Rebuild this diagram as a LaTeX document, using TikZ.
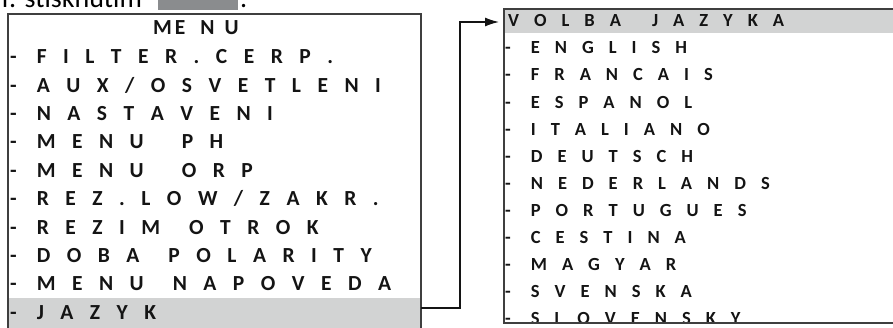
\documentclass[tikz,border=0pt]{standalone}
\usepackage{fontspec}
\setmainfont{Carlito}
\usetikzlibrary{arrows.meta}
\definecolor{framegray}{HTML}{3F3F3F}
\definecolor{band}{HTML}{D2D3D3}
\definecolor{keygray}{HTML}{8A8C8E}
\definecolor{ink}{HTML}{141414}

\newlength\lsp
\makeatletter
\newcommand\spaced[1]{\@tfor\ch:=#1\do{\ch\kern\lsp}}
\makeatother
\newcommand\wgap{\kern-4pt}
\newcommand\wwgap{\kern5pt}
\newcommand\hgap{\kern1pt}
\newcommand\rowtext[1]{-\kern20pt\expandafter\spaced\expandafter{#1}}

\begin{document}
\begin{tikzpicture}[x=1pt,y=-1pt,
	menuitem/.style={anchor=west,inner sep=0pt,text height=13.3pt,text depth=0pt,text=ink,
		font=\bfseries\fontsize{21.5}{21.5}\selectfont\setlength\lsp{16.5pt}},
	langitem/.style={anchor=west,inner sep=0pt,text height=11.7pt,text depth=0pt,text=ink,
		font=\bfseries\fontsize{18.5}{18.5}\selectfont\setlength\lsp{15pt}},
	frame/.style={draw=framegray,line width=1.5pt},
	arrowline/.style={draw=ink,line width=1.4pt,-{Latex[length=14pt,width=9pt]}}]

	\useasboundingbox (0,0) rectangle (893,327);

	% cut-off line of the page above
	\fill[keygray] (158,-5) rectangle (238,9.5);
	\node[anchor=base west,inner sep=0pt,font=\fontsize{28}{28}\selectfont] (cut) at (2,7) {r. stisknutím};
	\node[anchor=base west,inner sep=0pt,font=\fontsize{28}{28}\selectfont] (dot) at (240,7) {.};

	\coordinate (a) at (8,14);
	\coordinate (b) at (421,340);
	\coordinate (c) at (504,9);
	\coordinate (d) at (900,323);

	\fill[band] (8,298) rectangle (b);
	\fill[band] (c) rectangle (900,33);

	% main menu
	\node[menuitem] (title) at (153,28) {M\kern3pt E\kern15pt N\kern10pt U};
	\foreach \txt [count=\i] in {FILTER.CERP., AUX/OSVETLENI, NASTAVENI, MENU\wwgap PH, MENU\wwgap ORP,
		REZ.LOW/ZAKR., REZIM\wgap OTROK, DOBA\wgap POLARITY, MENU\wgap NAPOVEDA, JAZYK}
		\node[menuitem] (m\i) at (10,{57+(\i-1)*28.4}) {\rowtext{\txt}};

	% language menu
	\begin{scope}
		\clip (c) rectangle (d);
		\node[langitem] (head) at (508,21) {\spaced{VOLBA\hgap JAZYKA}};
		\foreach \txt [count=\i] in {ENGLISH, FRANCAIS, ESPANOL, ITALIANO, DEUTSCH, NEDERLANDS,
			PORTUGUES, CESTINA, MAGYAR, SVENSKA, SLOVENSKY}
			\node[langitem] (l\i) at (505,{48+(\i-1)*27.1}) {\rowtext{\txt}};
	\end{scope}

	\draw[frame] (a) rectangle (b);
	\draw[frame] (c) rectangle (d);

	\coordinate (jazyk) at (421,308);
	\coordinate (volba) at (499,22);
	\draw[arrowline] (jazyk) -- ++(39,0) |- (volba);

\end{tikzpicture}
\end{document}
